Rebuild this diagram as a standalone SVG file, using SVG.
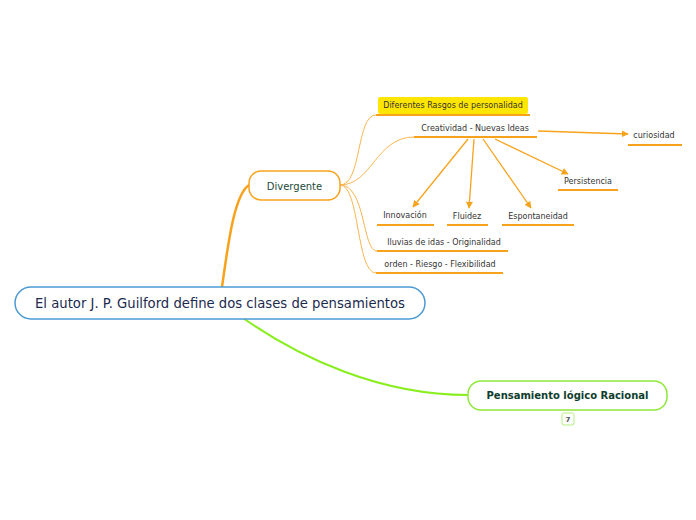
<svg xmlns="http://www.w3.org/2000/svg" width="696" height="520" viewBox="0 0 696 520">
<defs>
<marker id="ah" viewBox="0 0 10 10" refX="9" refY="5" markerWidth="7" markerHeight="7" orient="auto" markerUnits="userSpaceOnUse">
<path d="M0,0 L10,5 L0,10 z" fill="#f7a21b"/>
</marker>
<style>
.t{font-family:"DejaVu Sans",Verdana,sans-serif;}
.sub{font-size:8px;fill:#333333;}
.ul{stroke:#f7a21b;stroke-width:2;fill:none;}
.thin{stroke:#f9b651;stroke-width:1;fill:none;}
.arr{stroke:#f7a21b;stroke-width:1.3;fill:none;marker-end:url(#ah);}
</style>
</defs>
<rect width="696" height="520" fill="#ffffff"/>
<g id="connectors">
<path d="M222,287 C228,245 234,195 249,185" stroke="#f7a21b" stroke-width="2.5" fill="none"/>
<path d="M243,318 C300,358 380,395 468,395" stroke="#88ee1e" stroke-width="2" fill="none"/>
<path class="thin" d="M340,185 C362,185 356,115 376,115"/>
<path class="thin" d="M340,185 C372,185 376,137 414,137"/>
<path class="thin" d="M340,185 C366,185 362,251 377,251"/>
<path class="thin" d="M340,185 C360,185 356,273 376,273"/>
<path class="arr" d="M468,139 L413,207"/>
<path class="arr" d="M474,139 L469,208"/>
<path class="arr" d="M483,139 L531,208"/>
<path class="arr" d="M495,139 L568,174"/>
<path class="arr" d="M538,131 L628,134"/>
</g>
<g id="root">
<rect x="15" y="287" width="410" height="32" rx="16" fill="#ffffff" stroke="#4a9ad4" stroke-width="1.5"/>
<text class="t" x="220" y="307.5" text-anchor="middle" font-size="13.2" fill="#1b2a4e">El autor J. P. Guilford define dos clases de pensamientos</text>
</g>
<g id="divergente">
<rect x="249" y="171" width="91" height="29" rx="12" fill="#ffffff" stroke="#f7a21b" stroke-width="1.5"/>
<text class="t" x="294.5" y="189.5" text-anchor="middle" font-size="10" fill="#1d4a3a">Divergente</text>
</g>
<g id="rasgos">
<rect x="378" y="97" width="150" height="17" rx="2" fill="#ffe600"/>
<line class="ul" x1="376" y1="115" x2="530" y2="115"/>
<text class="t sub" x="453" y="108" text-anchor="middle">Diferentes Rasgos de personalidad</text>
</g>
<g id="creatividad">
<line class="ul" x1="414" y1="137" x2="537" y2="137"/>
<text class="t sub" x="475" y="131" text-anchor="middle">Creatividad - Nuevas Ideas</text>
</g>
<g id="curiosidad">
<line class="ul" x1="628" y1="145" x2="682" y2="145"/>
<text class="t sub" x="654" y="137.5" text-anchor="middle">curiosidad</text>
</g>
<g id="persistencia">
<line class="ul" x1="558" y1="190" x2="618" y2="190"/>
<text class="t sub" x="588" y="184" text-anchor="middle">Persistencia</text>
</g>
<g id="innovacion">
<line class="ul" x1="377" y1="225" x2="434" y2="225"/>
<text class="t sub" x="405" y="218" text-anchor="middle">Innovación</text>
</g>
<g id="fluidez">
<line class="ul" x1="447" y1="225" x2="488" y2="225"/>
<text class="t sub" x="467" y="219" text-anchor="middle">Fluidez</text>
</g>
<g id="espontaneidad">
<line class="ul" x1="502" y1="225" x2="574" y2="225"/>
<text class="t sub" x="538" y="219" text-anchor="middle">Espontaneidad</text>
</g>
<g id="lluvias">
<line class="ul" x1="377" y1="251" x2="508" y2="251"/>
<text class="t sub" x="444" y="245" text-anchor="middle">lluvias de idas - Originalidad</text>
</g>
<g id="orden">
<line class="ul" x1="376" y1="273" x2="503" y2="273"/>
<text class="t sub" x="440" y="267" text-anchor="middle">orden - Riesgo - Flexibilidad</text>
</g>
<g id="racional">
<rect x="468" y="381" width="199" height="29" rx="13" fill="#ffffff" stroke="#8de83a" stroke-width="1.5"/>
<text class="t" x="567.5" y="399" text-anchor="middle" font-size="10" font-weight="bold" fill="#0e3d2e">Pensamiento lógico Racional</text>
<rect x="562" y="413" width="12" height="12" rx="2" fill="#ffffff" stroke="#b4ef7a" stroke-width="1"/>
<text class="t" x="568" y="422" text-anchor="middle" font-size="7" font-weight="bold" fill="#555555">7</text>
</g>
</svg>
